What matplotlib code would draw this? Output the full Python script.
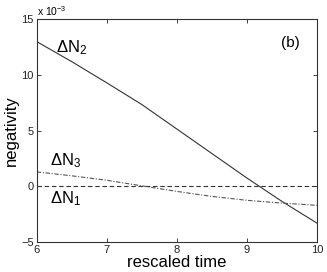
import matplotlib
matplotlib.use("Agg")
import matplotlib.pyplot as plt

plt.rcParams['font.family'] = ['Liberation Sans', 'DejaVu Sans']
plt.rcParams['mathtext.fontset'] = 'custom'
plt.rcParams['mathtext.rm'] = 'Liberation Sans'
plt.rcParams['mathtext.it'] = 'Liberation Sans'

# rescaled time
t = [6.0, 6.5, 7.0, 7.5, 8.0, 8.5, 9.0, 9.5, 10.0]
# negativities in units of 1e-3
dN2 = [13.0, 11.2, 9.3, 7.35, 5.15, 2.95, 0.75, -1.35, -3.3]
dN3 = [1.3, 0.95, 0.55, 0.05, -0.45, -0.9, -1.25, -1.5, -1.7]
dN1 = [0.0, 0.0, 0.0, 0.0, 0.0, 0.0, 0.0, 0.0, 0.0]

xticks = [6, 7, 8, 9, 10]
yticks = [-5, 0, 5, 10, 15]

fig = plt.figure(figsize=(3.27, 2.72), dpi=100)
ax = fig.add_axes([0.1122, 0.110, 0.8572, 0.819])

ax.plot(t, dN2, '-', color='#333333', lw=0.8)
ax.plot(t, dN1, '--', color='#333333', lw=0.8, dashes=(4, 2.5))
ax.plot(t, dN3, '-.', color='#555555', lw=0.8, dashes=(4, 1.5, 1, 1.5))

ax.set_xlim(6, 10)
ax.set_ylim(-5, 15)
ax.set_xticks(xticks)
ax.set_yticks(yticks)
ax.set_xticklabels([str(v) for v in xticks])
ax.set_yticklabels(['\u22125' if v < 0 else str(v) for v in yticks])
ax.tick_params(direction='in', length=3, width=0.6, labelsize=8, top=True, right=True,
               colors='#222222', pad=2)
for s in ax.spines.values():
    s.set_linewidth(0.8)
    s.set_color('#333333')

ax.set_xlabel('rescaled time', fontsize=12, labelpad=0)
ax.set_ylabel('negativity', fontsize=12, labelpad=2)

ax.text(6.27, 12.0, r'$\Delta$N$_2$', fontsize=12)
ax.text(6.19, 1.9, r'$\Delta$N$_3$', fontsize=12)
ax.text(6.19, -1.5, r'$\Delta$N$_1$', fontsize=12)
ax.text(9.48, 12.5, '(b)', fontsize=11)
fig.text(0.113, 0.935, r'x 10$^{-3}$', fontsize=7.5, va='bottom')

fig.savefig('out.png', dpi=100)
